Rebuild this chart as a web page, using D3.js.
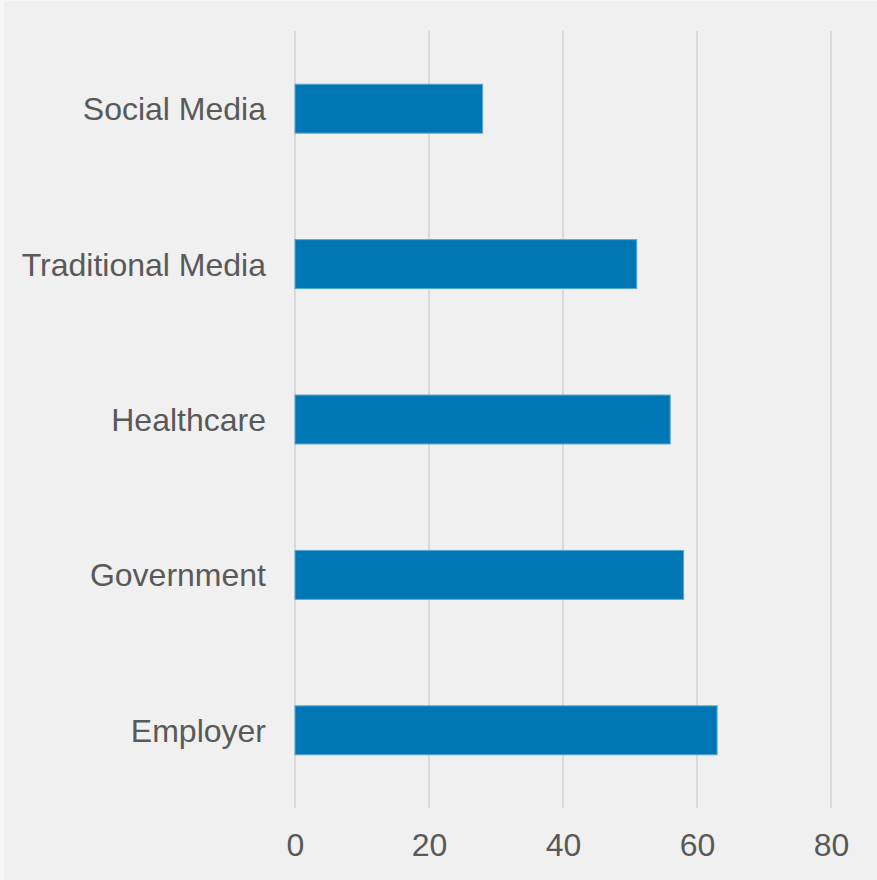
<!DOCTYPE html>
<html>
<head>
<meta charset="utf-8">
<script src="https://cdn.jsdelivr.net/npm/d3@7"></script>
<style>
  html, body { margin: 0; padding: 0; background: #f7f7f7; }
  svg { display: block; }
</style>
</head>
<body>
<script>
const categories = ["Social Media", "Traditional Media", "Healthcare", "Government", "Employer"];
const values = [28, 51, 56, 58, 63];
const tickValues = [0, 20, 40, 60, 80];

const W = 877, H = 880;
const svg = d3.select("body").append("svg").attr("width", W).attr("height", H);

svg.append("rect").attr("x", 4).attr("y", 1).attr("width", W - 4).attr("height", H - 1).attr("fill", "#f0f0f0");

const x = d3.scaleLinear().domain([0, 80]).range([295, 831]);
const y = d3.scaleBand().domain(categories).range([31, 808]).paddingInner(0.685).paddingOuter(0.3425);

const font = "'Liberation Sans', Arial, Helvetica, sans-serif";

// gridlines
svg.append("g").selectAll("line").data(tickValues).join("line")
  .attr("x1", d => x(d)).attr("x2", d => x(d))
  .attr("y1", 31).attr("y2", 808)
  .attr("stroke", "#d9d9d9").attr("stroke-width", 2);

// bars
svg.append("g").selectAll("rect").data(categories).join("rect")
  .attr("x", x(0))
  .attr("y", d => y(d))
  .attr("width", (d, i) => x(values[i]) - x(0))
  .attr("height", y.bandwidth())
  .attr("fill", "#0077b4")
  .attr("stroke", "#5aa8d2").attr("stroke-width", 1);

// x axis
const xAxis = svg.append("g").attr("transform", "translate(0,808)")
  .call(d3.axisBottom(x).tickValues(tickValues).tickSize(0).tickPadding(0));
xAxis.select(".domain").remove();
xAxis.selectAll("text")
  .attr("y", 48).attr("dy", 0)
  .attr("fill", "#595959").style("font-family", font).style("font-size", "32px");

// y axis
const yAxis = svg.append("g").attr("transform", "translate(266,0)")
  .call(d3.axisLeft(y).tickSize(0).tickPadding(0));
yAxis.select(".domain").remove();
yAxis.selectAll("text")
  .attr("x", 0).attr("dy", "0.36em")
  .attr("fill", "#595959").style("font-family", font).style("font-size", "32px");
</script>
</body>
</html>
